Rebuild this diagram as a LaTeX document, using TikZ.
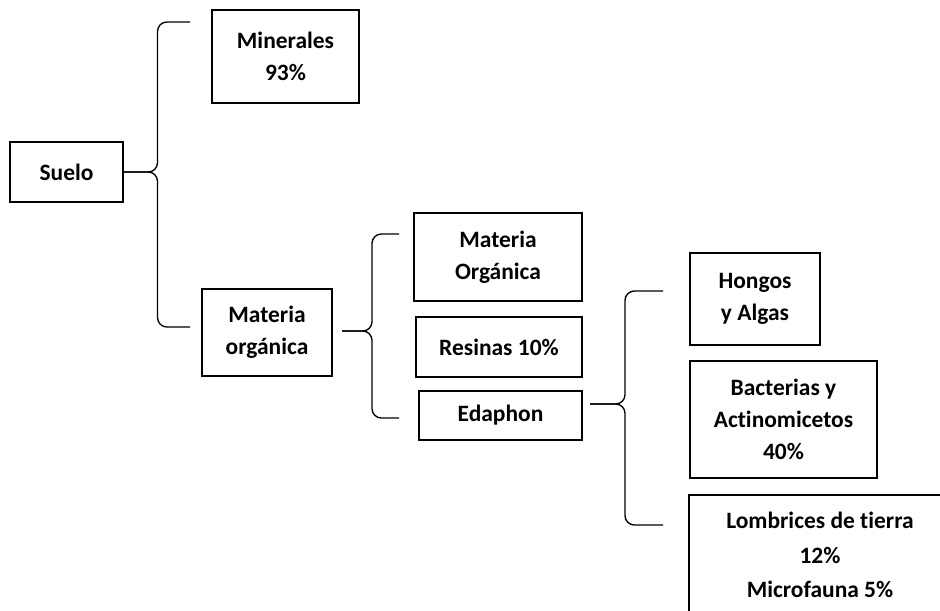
\documentclass[tikz,border=0pt]{standalone}
\usepackage{fontspec}
\setmainfont[Ligatures=NoCommon]{Carlito}

\begin{document}
\begin{tikzpicture}[x=0.75pt, y=-0.75pt,
    box/.style={rectangle, draw, line width=0.8pt, inner sep=0pt, align=center, font=\fontsize{17.6}{24}\selectfont\bfseries},
    brace/.style={line width=1pt, rounded corners=7pt}]
    \useasboundingbox (0, 0) rectangle (940, 611);
    \clip (0, 0) rectangle (940, 611);

    \node[box, minimum width=84.75pt, minimum height=45pt] (suelo) at (66.5, 172) {Suelo};
    \node[box, minimum width=110.25pt, minimum height=69.75pt] (minerales) at (285.5, 56.5) {Minerales\\93\%};
    \node[box, minimum width=97.5pt, minimum height=65.25pt] (materia) at (267, 332.5) {Materia\\orgánica};
    \node[box, minimum width=126pt, minimum height=66pt] (orgsub) at (498, 257) {Materia\\Orgánica};
    \node[box, minimum width=124.5pt, minimum height=45pt] (resinas) at (499, 347) {Resinas 10\%};
    \node[box, minimum width=122.25pt, minimum height=36.75pt] (edaphon) at (500.5, 415.5) {Edaphon};
    \node[box, minimum width=97.5pt, minimum height=69pt] (hongos) at (755, 299) {Hongos\\y Algas};
    \node[box, minimum width=140.25pt, minimum height=87.75pt] (bacterias) at (783.5, 419.5) {Bacterias y\\Actinomicetos\\40\%};
    \node[box, minimum width=196.5pt, minimum height=90pt] (lombrices) at (820, 555) {Lombrices de tierra\\[2pt]12\%\\[2pt]Microfauna 5\%};

    \coordinate (b1top) at (190, 22);
    \coordinate (b1bot) at (190, 327);
    \coordinate (b2tip) at (342, 331);
    \coordinate (b2top) at (399, 234);
    \coordinate (b2bot) at (399, 418);
    \coordinate (b3tip) at (590, 404);
    \coordinate (b3top) at (663, 291);
    \coordinate (b3bot) at (663, 525);

    \draw[brace] (suelo.east) -- ++(34, 0) |- (b1top);
    \draw[brace] (suelo.east) -- ++(34, 0) |- (b1bot);
    \draw[brace] (b2tip) -- ++(30, 0) |- (b2top);
    \draw[brace] (b2tip) -- ++(30, 0) |- (b2bot);
    \draw[brace] (b3tip) -- ++(35, 0) |- (b3top);
    \draw[brace] (b3tip) -- ++(35, 0) |- (b3bot);
\end{tikzpicture}
\end{document}
